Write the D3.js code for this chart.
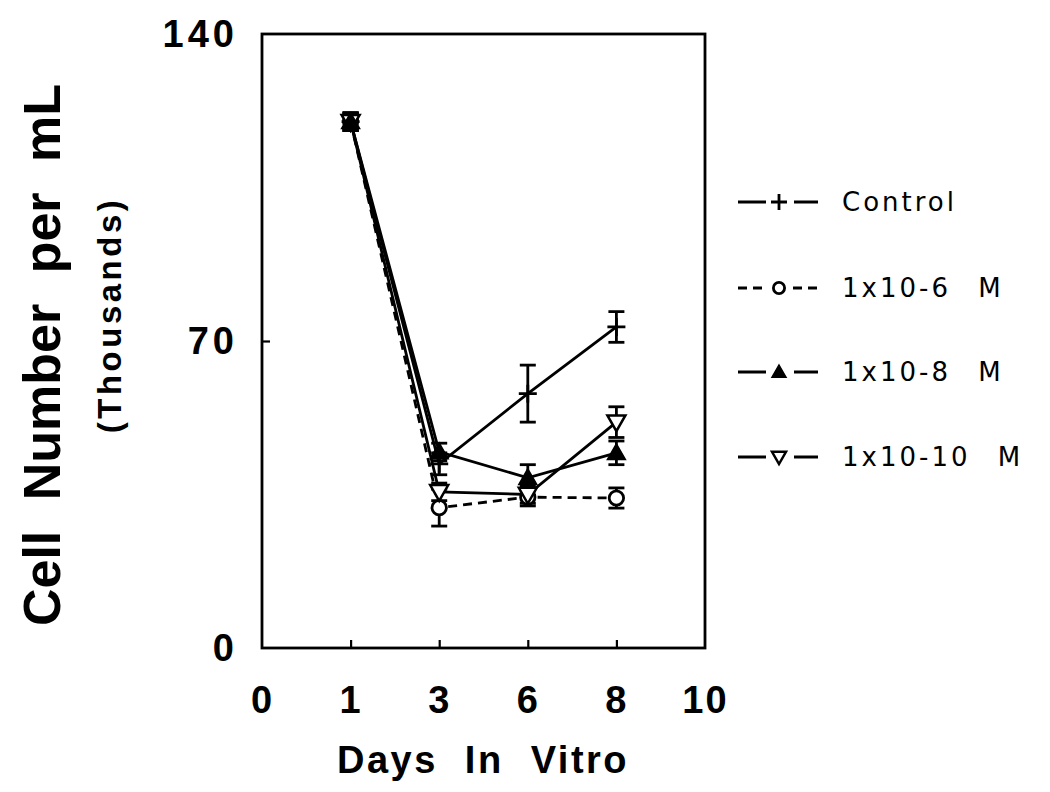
<!DOCTYPE html>
<html><head><meta charset="utf-8">
<script src="https://cdn.jsdelivr.net/npm/d3@7/dist/d3.min.js"></script>
<style>body{margin:0;background:#fff}</style>
</head><body>
<svg id="c" width="1050" height="792"></svg>
<script>
const xTickLabels = ["0","1","3","6","8","10"];
const yTickValues = [0,70,140];
const days = ["1","3","6","8"];
const seriesNames = ["Control","1x10-6  M","1x10-8  M","1x10-10  M"];
const controlMean = [120,42,58,73.2];
const controlErr  = [2,2.5,6.5,3.5];
const m6Mean = [120,32,34.4,34.2];
const m6Err  = [2,4.2,2.0,2.3];
const m8Mean = [120,44.7,38.8,44.5];
const m8Err  = [2,2.0,3.0,2.7];
const m10Mean = [120,35.6,35.0,51.5];
const m10Err  = [2,2.0,2.0,3.5];

const series = [
  {name:seriesNames[0], mean:controlMean, err:controlErr, sym:"plus", dash:null},
  {name:seriesNames[1], mean:m6Mean, err:m6Err, sym:"circle", dash:"9,6"},
  {name:seriesNames[2], mean:m8Mean, err:m8Err, sym:"tri", dash:null},
  {name:seriesNames[3], mean:m10Mean, err:m10Err, sym:"dtri", dash:null}
];

const svg = d3.select("#c");
const L=262,R=705,T=34,B=648;
const SW=2.8;
const x = d3.scalePoint().domain(xTickLabels).range([L,R]);
const y = d3.scaleLinear().domain([0,140]).range([B,T]);
const boldFont="Liberation Sans, Arial, sans-serif";

svg.append("rect").attr("width",1050).attr("height",792).attr("fill","#fff");

svg.append("rect").attr("x",L).attr("y",T).attr("width",R-L).attr("height",B-T)
  .attr("fill","none").attr("stroke","#000").attr("stroke-width",SW);

const xAxis = d3.axisBottom(x).tickSizeInner(-8).tickSizeOuter(0).tickPadding(38);
const gx = svg.append("g").attr("transform",`translate(0,${B})`).call(xAxis);
gx.select(".domain").remove();
gx.selectAll(".tick line").attr("stroke","#000").attr("stroke-width",2.2)
  .attr("display",d=>(d==="0"||d==="10")?"none":null);
gx.selectAll(".tick text").attr("font-family",boldFont)
  .attr("font-weight","bold").attr("font-size",38).attr("fill","#000").attr("letter-spacing",2);

const yAxis = d3.axisLeft(y).tickValues(yTickValues).tickSizeInner(-8).tickSizeOuter(0).tickPadding(24);
const gy = svg.append("g").attr("transform",`translate(${L},0)`).call(yAxis);
gy.select(".domain").remove();
gy.selectAll(".tick line").attr("stroke","#000").attr("stroke-width",2.2)
  .attr("display",d=>(d===0||d===140)?"none":null);
gy.selectAll(".tick text").attr("font-family",boldFont)
  .attr("font-weight","bold").attr("font-size",38).attr("fill","#000").attr("letter-spacing",4);

svg.append("text").attr("x",483).attr("y",773).attr("text-anchor","middle")
  .attr("font-family",boldFont).attr("font-weight","bold")
  .attr("font-size",38).attr("word-spacing",14).attr("letter-spacing",2.5).text("Days In Vitro");
svg.append("text").attr("transform","translate(60,355) rotate(-90)").attr("text-anchor","middle")
  .attr("font-family",boldFont).attr("font-weight","bold")
  .attr("font-size",52).attr("word-spacing",16).text("Cell Number per mL");
svg.append("text").attr("transform","translate(121,315) rotate(-90)").attr("text-anchor","middle")
  .attr("font-family",boldFont).attr("font-weight","bold")
  .attr("font-size",33).attr("letter-spacing",3.5).text("(Thousands)");

const line = d3.line().x(d=>x(d.day)).y(d=>y(d.v));
series.forEach(s=>{
  const pts = days.map((d,i)=>({day:d,v:s.mean[i]}));
  svg.append("path").datum(pts).attr("d",line).attr("fill","none")
    .attr("stroke","#000").attr("stroke-width",SW)
    .attr("stroke-dasharray",s.dash);
});

series.forEach(s=>{
  const g = svg.append("g").attr("stroke","#000").attr("stroke-width",SW);
  days.forEach((d,i)=>{
    const cx=x(d), hi=y(s.mean[i]+s.err[i]), lo=y(s.mean[i]-s.err[i]);
    g.append("line").attr("x1",cx).attr("x2",cx).attr("y1",hi).attr("y2",lo);
    g.append("line").attr("x1",cx-8).attr("x2",cx+8).attr("y1",hi).attr("y2",hi);
    g.append("line").attr("x1",cx-8).attr("x2",cx+8).attr("y1",lo).attr("y2",lo);
  });
});

function drawSym(g,sym,cx,cy,sz){
  if(sym==="plus"){
    g.append("path").attr("d",`M${cx-sz},${cy}H${cx+sz}M${cx},${cy-sz}V${cy+sz}`)
      .attr("stroke","#000").attr("stroke-width",SW).attr("fill","none");
  } else if(sym==="circle"){
    g.append("circle").attr("cx",cx).attr("cy",cy).attr("r",sz*0.8)
      .attr("fill","#fff").attr("stroke","#000").attr("stroke-width",SW);
  } else if(sym==="tri"){
    g.append("path").attr("d",`M${cx},${cy-sz}L${cx+sz},${cy+sz*0.75}L${cx-sz},${cy+sz*0.75}Z`)
      .attr("fill","#000").attr("stroke","#000").attr("stroke-width",1.5);
  } else {
    g.append("path").attr("d",`M${cx-sz},${cy-sz*0.75}L${cx+sz},${cy-sz*0.75}L${cx},${cy+sz}Z`)
      .attr("fill","#fff").attr("stroke","#000").attr("stroke-width",2.5);
  }
}

const order=[1,3,2,0];
order.forEach(k=>{
  const s=series[k];
  const g=svg.append("g");
  days.forEach((d,i)=>drawSym(g,s.sym,x(d),y(s.mean[i]),9));
});

const legY=[202,288,372,457];
series.forEach((s,i)=>{
  const g=svg.append("g");
  const yy=legY[i];
  if(s.dash){
    g.append("path").attr("d",`M738,${yy}H767M793,${yy}H820`).attr("stroke","#000")
      .attr("stroke-width",SW).attr("stroke-dasharray","9,6");
  } else {
    g.append("path").attr("d",`M738,${yy}H766M794,${yy}H818`).attr("stroke","#000").attr("stroke-width",SW);
  }
  drawSym(g,s.sym,779,yy,s.sym==="plus"?8:7);
  g.append("text").attr("x",842).attr("y",yy+9).attr("font-family","DejaVu Sans, sans-serif")
    .attr("font-size",26).attr("letter-spacing",3).attr("word-spacing",16).attr("fill","#000").text(s.name);
});
</script>
</body></html>
